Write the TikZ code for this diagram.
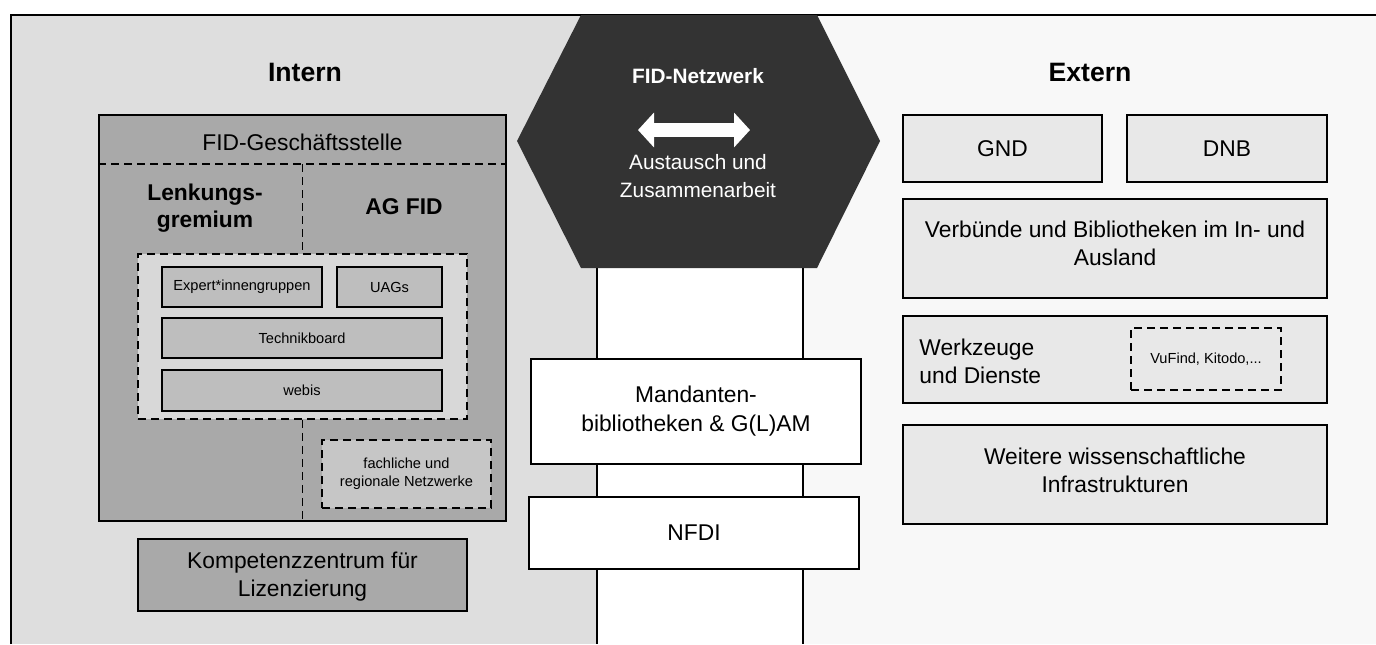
\documentclass[tikz,border=0pt]{standalone}
\usepackage{fontspec}
\setmainfont{Liberation Sans}
\usetikzlibrary{arrows.meta}
\definecolor{intbg}{HTML}{DEDEDE}
\definecolor{extbg}{HTML}{F8F8F8}
\definecolor{hexc}{HTML}{333333}
\definecolor{fidc}{HTML}{A9A9A9}
\definecolor{innerc}{HTML}{D8D8D8}
\definecolor{subc}{HTML}{BEBEBE}
\definecolor{netc}{HTML}{C6C6C6}
\definecolor{extc}{HTML}{E8E8E8}

\begin{document}
\begin{tikzpicture}[x=0.5pt,y=-0.5pt,
    box/.style={draw=black,line width=1pt,inner sep=0pt,align=center,font=\fontsize{11.4}{14.5}\selectfont},
    smallbox/.style={box,font=\fontsize{7.3}{8.9}\selectfont},
    dsh/.style={draw=black,line width=0.9pt,dash pattern=on 4pt off 2.5pt},
    head/.style={font=\fontsize{13.3}{16}\selectfont\bfseries},
    sub/.style={align=center,font=\fontsize{11.4}{13.5}\selectfont\bfseries},
    txt/.style={align=center,inner sep=0pt,font=\fontsize{11.4}{14}\selectfont}]
  \useasboundingbox (0,0) rectangle (1376,644);
  % hintergrund
  \fill[intbg] (11,15) rectangle (597,644);
  \fill[extbg] (803,15) rectangle (1376,644);
  \draw[line width=1pt] (11,644) -- (11,15) -- (1376,15);
  \coordinate (lt) at (597,268); \coordinate (lb) at (597,644);
  \coordinate (rt) at (803,268); \coordinate (rb) at (803,644);
  \draw[line width=1pt] (lt) -- (lb);
  \draw[line width=1pt] (rt) -- (rb);
  % netzwerk
  \fill[hexc] (581,15) -- (817,15) -- (880,141) -- (817,268) -- (581,268) -- (517,141) -- cycle;
  \node[head,text=white,font=\fontsize{10.4}{13}\selectfont\bfseries] (netz) at (698,76) {FID-Netzwerk};
  \coordinate (xl) at (638,130); \coordinate (xr) at (750,130);
  \draw[white,line width=7pt,{Triangle[length=8pt,width=17pt]}-{Triangle[length=8pt,width=17pt]}] (xl) -- (xr);
  \node[text=white,align=center,font=\fontsize{10.4}{14}\selectfont] (aus) at (698,176) {Austausch und\\Zusammenarbeit};

  % intern
  \node[head] (intern) at (305,72) {Intern};
  \node[box,fill=fidc,minimum width=203.5pt,minimum height=203pt] (fid) at (302.5,318) {};
  \node[font=\fontsize{11.4}{14}\selectfont] (gs) at (302.5,142) {FID-Geschäftsstelle};
  \node[box,dsh,fill=innerc,minimum width=164.5pt,minimum height=82.5pt] (inner) at (302.5,336.5) {};
  \draw[dsh] ([yshift=-25pt]fid.north west) -- ([yshift=-25pt]fid.north east);
  \draw[dsh] ([yshift=-25pt]fid.north) -- (inner.north);
  \draw[dsh] (inner.south) -- (fid.south);
  \node[sub] (lenk) at (205,208) {Lenkungs-\\gremium};
  \node[sub] (ag) at (404,207) {AG FID};
  \node[smallbox,fill=subc,minimum width=80pt,minimum height=20pt] (exp) at (242,287) {Expert*innengruppen};
  \node[smallbox,fill=subc,minimum width=52.5pt,minimum height=20pt] (uag) at (389.5,287) {UAGs};
  \node[smallbox,fill=subc,minimum width=140pt,minimum height=20pt] (tech) at (302,338) {Technikboard};
  \node[smallbox,fill=subc,minimum width=140pt,minimum height=20.5pt] (webis) at (302,390.5) {webis};
  \node[smallbox,dsh,fill=netc,minimum width=84.5pt,minimum height=34pt] (fach) at (406.5,474) {fachliche und\\regionale Netzwerke};
  \node[box,fill=fidc,minimum width=164.5pt,minimum height=36pt] (komp) at (302.5,575) {};
  \node[txt] (kompt) at (302.5,577) {Kompetenzzentrum für\\Lizenzierung};

  % mitte
  \node[box,fill=white,minimum width=165pt,minimum height=52.5pt] (mand) at (696,411.5) {Mandanten-\\bibliotheken \& G(L)AM};
  \node[box,fill=white,minimum width=165pt,minimum height=36pt] (nfdi) at (694,533) {NFDI};

  % extern
  \node[head] (extern) at (1090,72) {Extern};
  \node[box,fill=extc,minimum width=99.5pt,minimum height=33.5pt] (gnd) at (1002.5,148.5) {GND};
  \node[box,fill=extc,minimum width=100pt,minimum height=33.5pt] (dnb) at (1227,148.5) {DNB};
  \node[box,fill=extc,minimum width=212pt,minimum height=49.5pt] (verb) at (1115,248.5) {};
  \node[txt] (verbt) at (1115,243) {Verbünde und Bibliotheken im In- und\\Ausland};
  \node[box,fill=extc,minimum width=212pt,minimum height=43.5pt] (wz) at (1115,359.5) {};
  \node[txt,align=left,anchor=west] (wzt) at (919,361) {Werkzeuge\\und Dienste};
  \node[smallbox,dsh,minimum width=75pt,minimum height=31pt] (vuf) at (1206,359) {VuFind, Kitodo,...};
  \node[box,fill=extc,minimum width=212pt,minimum height=49.5pt] (weit) at (1115,474.5) {};
  \node[txt] (weitt) at (1115,470) {Weitere wissenschaftliche\\Infrastrukturen};
\end{tikzpicture}
\end{document}
